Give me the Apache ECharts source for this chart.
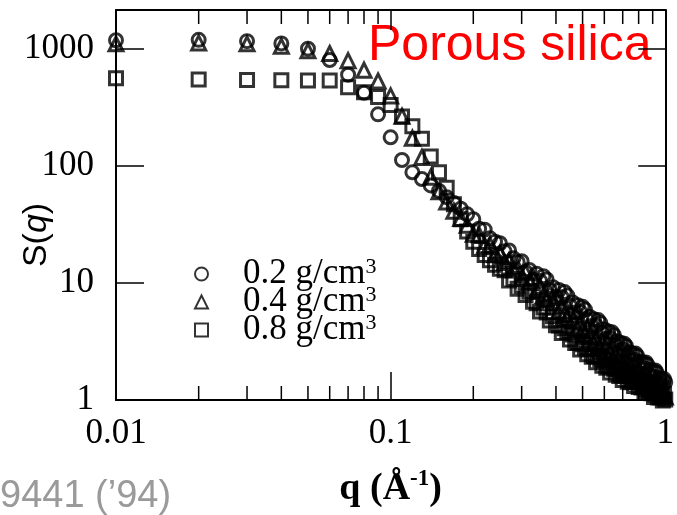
<!DOCTYPE html>
<html>
<head>
<meta charset="utf-8">
<script src="https://cdn.jsdelivr.net/npm/echarts@6/dist/echarts.min.js"></script>
<style>
html, body { margin: 0; padding: 0; background: #fff; }
#chart { width: 677px; height: 515px; }
</style>
</head>
<body>
<div id="chart"></div>
<script>
// scattering vector q (1/A), same grid for the three samples
var q = [0.01, 0.02, 0.03, 0.04, 0.05, 0.06, 0.07, 0.08, 0.09, 0.10,
  0.11, 0.12, 0.13, 0.14, 0.15, 0.16, 0.17, 0.18, 0.19, 0.20,
  0.21, 0.22, 0.23, 0.24, 0.25, 0.26, 0.27, 0.28, 0.29, 0.30,
  0.31, 0.32, 0.33, 0.34, 0.35, 0.36, 0.37, 0.38, 0.39, 0.40,
  0.41, 0.42, 0.43, 0.44, 0.45, 0.46, 0.47, 0.48, 0.49, 0.50,
  0.51, 0.52, 0.53, 0.54, 0.55, 0.56, 0.57, 0.58, 0.59, 0.60,
  0.61, 0.62, 0.63, 0.64, 0.65, 0.66, 0.67, 0.68, 0.69, 0.70,
  0.71, 0.72, 0.73, 0.74, 0.75, 0.76, 0.77, 0.78, 0.79, 0.80,
  0.81, 0.82, 0.83, 0.84, 0.85, 0.86, 0.87, 0.88, 0.89, 0.90,
  0.91, 0.92, 0.93, 0.94, 0.95, 0.96, 0.97, 0.98, 0.99, 1.00];

// S(q) for 0.2 g/cm3
var s02 = [1180, 1190, 1160, 1110, 1000, 800, 600, 420, 275, 175,
  112, 88, 77, 68, 61, 54, 48, 43, 38.5, 35,
  29, 28.5, 24, 22.5, 21.8, 18.6, 18.9, 16.2, 15.1, 15.3,
  12.4, 12.9, 10.6, 12.0, 10.4, 11.4, 10.7, 8.7, 9.2, 7.6,
  8.7, 7.55, 8.35, 7.8, 6.4, 6.8, 5.6, 6.45, 5.64, 6.25,
  5.92, 4.84, 5.14, 4.28, 4.9, 4.32, 4.81, 4.55, 3.76, 4.0,
  3.34, 3.85, 3.39, 3.78, 3.58, 2.97, 3.16, 2.65, 3.06, 2.7,
  3.02, 2.88, 2.39, 2.56, 2.16, 2.5, 2.21, 2.49, 2.38, 1.98,
  2.12, 1.8, 2.09, 1.86, 2.09, 2.0, 1.67, 1.8, 1.53, 1.78,
  1.58, 1.79, 1.71, 1.43, 1.53, 1.3, 1.51, 1.34, 1.51, 1.42];

// S(q) for 0.4 g/cm3
var s04 = [1100, 1120, 1100, 1050, 960, 910, 790, 655, 530, 395,
  265, 172, 118, 80, 60, 49, 41, 35.5, 31, 26,
  25.8, 20.8, 21.1, 17.4, 17.9, 14.9, 15.5, 12.9, 13.5, 10.9,
  12.3, 10.1, 11.1, 8.5, 9.3, 7.8, 7.2, 8.2, 6.75, 7.5,
  5.76, 6.34, 5.4, 5.0, 5.72, 4.75, 5.3, 4.11, 4.54, 3.89,
  3.64, 4.17, 3.49, 3.91, 3.04, 3.38, 2.9, 2.73, 3.15, 2.64,
  2.97, 2.33, 2.6, 2.24, 2.12, 2.46, 2.08, 2.35, 1.85, 2.07,
  1.79, 1.71, 1.99, 1.69, 1.92, 1.52, 1.72, 1.5, 1.43, 1.68,
  1.43, 1.64, 1.31, 1.48, 1.3, 1.25, 1.47, 1.26, 1.45, 1.16,
  1.32, 1.17, 1.13, 1.34, 1.16, 1.34, 1.08, 1.24, 1.1, 1.06];

// S(q) for 0.8 g/cm3
var s08 = [560, 545, 540, 538, 535, 535, 468, 425, 386, 330,
  264, 218, 170, 120, 88, 65, 47, 35, 27.5, 22.5,
  19.5, 17.3, 15.6, 14.3, 13.2, 12.8, 10.5, 10.8, 8.9, 9.4,
  7.9, 8.4, 6.9, 6.7, 5.7, 6.16, 5.6, 4.78, 5.2, 4.35,
  4.33, 3.74, 4.1, 3.8, 3.28, 3.62, 3.06, 3.08, 2.7, 3.0,
  2.81, 2.46, 2.73, 2.34, 2.37, 2.1, 2.35, 2.22, 1.96, 2.19,
  1.89, 1.93, 1.72, 1.94, 1.85, 1.64, 1.84, 1.6, 1.65, 1.48,
  1.68, 1.6, 1.43, 1.63, 1.42, 1.47, 1.32, 1.51, 1.45, 1.29,
  1.47, 1.28, 1.32, 1.19, 1.35, 1.3, 1.16, 1.31, 1.14, 1.18,
  1.06, 1.21, 1.17, 1.05, 1.2, 1.05, 1.09, 0.99, 1.13, 1.01];

var names = ['0.2 g/cm3', '0.4 g/cm3', '0.8 g/cm3'];
var symbols = ['circle', 'triangle', 'rect'];
var minorQ = [0.02, 0.03, 0.04, 0.05, 0.06, 0.07, 0.08, 0.09,
  0.2, 0.3, 0.4, 0.5, 0.6, 0.7, 0.8, 0.9];

var serif = '"Liberation Serif", "DejaVu Serif", serif';
var sans = '"Liberation Sans", Arial, sans-serif';

function pairs(ys) {
  return q.map(function (x, i) { return [x, ys[i]]; });
}

function decadeLabel(v) {
  var e = Math.log(v) / Math.LN10;
  if (Math.abs(e - Math.round(e)) > 1e-6) return '';
  return String(+Math.pow(10, Math.round(e)).toPrecision(6));
}

var axisLine = { show: true, lineStyle: { color: '#000', width: 2 } };

var series = [s02, s04, s08].map(function (ys, k) {
  return {
    name: names[k],
    type: 'scatter',
    data: pairs(ys),
    symbol: symbols[k],
    symbolSize: k === 1 ? 14 : 13,
    clip: false,
    silent: true,
    itemStyle: { color: 'transparent', borderColor: '#000', borderWidth: 3 }
  };
});

series.push({
  type: 'custom',
  silent: true,
  clip: false,
  data: minorQ.map(function (v) { return [v, 1]; }),
  renderItem: function (params, api) {
    var x = api.coord([api.value(0), 1])[0];
    var cs = params.coordSys;
    var bot = cs.y + cs.height, top = cs.y;
    var st = { stroke: '#000', lineWidth: 1.5 };
    return {
      type: 'group',
      children: [
        { type: 'line', shape: { x1: x, y1: bot, x2: x, y2: bot - 14 }, style: st },
        { type: 'line', shape: { x1: x, y1: top, x2: x, y2: top + 14 }, style: st }
      ]
    };
  }
});

var chart = echarts.init(document.getElementById('chart'));
chart.setOption({
  animation: false,
  textStyle: { fontFamily: serif },
  grid: { left: 116, right: 5, top: 10, bottom: 102 },
  xAxis: [{
    type: 'log', logBase: 10, min: 0.01, max: 1, position: 'bottom',
    axisLine: axisLine,
    axisTick: { inside: true, length: 28, lineStyle: { color: '#000', width: 1.5 } },
    axisLabel: { color: '#000', fontFamily: serif, fontSize: 35, margin: 16, formatter: decadeLabel },
    splitLine: { show: false },
    name: '{b|q (Å}{s|-1}{b|)}',
    nameLocation: 'middle',
    nameGap: 70,
    nameTextStyle: {
      rich: {
        b: { fontFamily: serif, fontSize: 38, fontWeight: 'bold', color: '#000', lineHeight: 38 },
        s: { fontFamily: serif, fontSize: 23, fontWeight: 'bold', color: '#000', lineHeight: 19, padding: [0, 0, 19, 0] }
      }
    }
  }, {
    type: 'log', logBase: 10, min: 0.01, max: 1, position: 'top',
    axisLine: axisLine,
    axisTick: { inside: true, length: 20, lineStyle: { color: '#000', width: 1.5 } },
    axisLabel: { show: false },
    splitLine: { show: false }
  }],
  yAxis: [{
    type: 'log', logBase: 10, min: 1, max: 2140, position: 'left',
    axisLine: axisLine,
    axisTick: { inside: true, length: 28, lineStyle: { color: '#000', width: 1.5 } },
    axisLabel: { color: '#000', fontFamily: serif, fontSize: 35, margin: 22, formatter: decadeLabel },
    splitLine: { show: false }
  }, {
    type: 'log', logBase: 10, min: 1, max: 2140, position: 'right',
    axisLine: axisLine,
    axisTick: { inside: true, length: 27, lineStyle: { color: '#000', width: 1.5 } },
    axisLabel: { show: false },
    splitLine: { show: false }
  }],
  legend: {
    data: names,
    orient: 'vertical',
    left: 189,
    top: 251,
    itemWidth: 13,
    itemHeight: 13,
    itemGap: -8,
    selectedMode: false,
    itemStyle: { borderWidth: 2 },
    formatter: function (n) { return '{t|' + n.slice(0, -1) + '}{s|3}'; },
    textStyle: {
      rich: {
        t: { fontFamily: serif, fontSize: 35, color: '#000', lineHeight: 28, padding: [0, 0, 0, 30] },
        s: { fontFamily: serif, fontSize: 22, color: '#000', lineHeight: 14, padding: [0, 0, 14, 0] }
      }
    }
  },
  graphic: [{
    type: 'text', x: 368, y: 46,
    style: { text: 'Porous silica', fill: '#ff0000', fontFamily: sans, fontSize: 50, verticalAlign: 'middle' }
  }, {
    type: 'text', x: 0, y: 497,
    style: { text: '9441 (’94)', fill: '#9a9a9a', fontFamily: sans, fontSize: 38, verticalAlign: 'middle' }
  }, {
    type: 'text', x: 37, y: 235, rotation: Math.PI / 2,
    style: {
      text: '{n|S(}{i|q}{n|)}', align: 'center', verticalAlign: 'middle',
      rich: {
        n: { fontFamily: sans, fontSize: 34, fill: '#000' },
        i: { fontFamily: sans, fontSize: 34, fontStyle: 'italic', fill: '#000' }
      }
    }
  }],
  series: series
});
</script>
</body>
</html>
